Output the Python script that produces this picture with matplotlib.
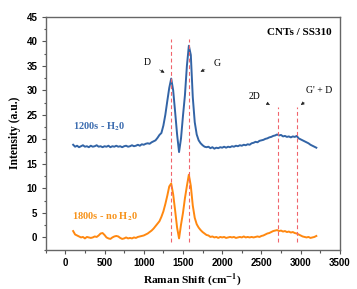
import numpy as np
import matplotlib
matplotlib.use('Agg')
import matplotlib.pyplot as plt
from matplotlib.ticker import MultipleLocator

# Raman shift grid (cm^-1)
shift = np.arange(100, 3201, 25)

# 1200s - H2O spectrum
blue_vals = [
    18.9, 18.5, 18.7, 18.4, 18.6, 18.8, 18.5, 18.6, 18.4, 18.7,
    18.5, 18.6, 18.8, 18.5, 18.6, 18.4, 18.6, 18.5, 18.7, 18.4,
    18.6, 18.5, 18.7, 18.5, 18.6, 18.4, 18.6, 18.7, 18.5, 18.6,
    18.8, 18.6, 18.7, 18.9, 18.7, 19.0, 18.9, 19.1, 19.2, 19.1,
    19.4, 19.6, 19.8, 20.3, 20.9, 21.3, 22.8, 25.0, 27.8, 30.5,
    32.4, 30.0, 25.6, 21.0, 17.4, 20.2, 24.8, 29.0, 35.0, 39.1,
    37.2, 28.6, 23.5, 21.0, 19.8, 19.2, 18.8, 18.5, 18.4, 18.5,
    18.2, 18.4, 18.1, 18.3, 18.2, 18.4, 18.3, 18.5, 18.3, 18.5,
    18.4, 18.6, 18.5, 18.7, 18.6, 18.8, 18.7, 18.9, 18.8, 19.0,
    18.9, 19.2, 19.3, 19.5, 19.4, 19.7, 19.8, 19.9, 20.1, 20.2,
    20.4, 20.5, 20.7, 20.8, 21.0, 20.8, 20.9, 20.6, 20.7, 20.5,
    20.6, 20.4, 20.6, 20.5, 20.7, 20.2, 20.0, 19.8, 19.6, 19.4,
    19.2, 18.9, 18.7, 18.5, 18.3,
]

# 1800s - no H2O spectrum
orange_vals = [
    1.3, 0.6, 0.4, 0.2, 0.0, 0.1, -0.2, 0.1, 0.0, -0.1,
    0.0, 0.2, 0.1, 0.4, 0.8, 0.9, 0.5, 0.0, -0.2, -0.3,
    0.0, 0.2, 0.3, 0.2, -0.1, -0.3, -0.2, 0.0, -0.2, -0.1,
    -0.2, 0.0, -0.1, 0.1, 0.2, 0.3, 0.4, 0.6, 0.8, 1.1,
    1.4, 1.8, 2.3, 2.8, 3.3, 4.2, 5.3, 6.8, 8.5, 10.4,
    11.0, 8.8, 5.5, 2.0, -0.2, 2.6, 5.0, 8.0, 10.5, 12.8,
    10.5, 6.5, 4.0, 2.7, 2.0, 1.5, 1.1, 0.8, 0.5, 0.4,
    0.1, 0.2, 0.0, 0.1, -0.1, 0.1, 0.0, 0.1, -0.1, 0.0,
    0.1, 0.0, 0.1, -0.1, 0.0, 0.1, 0.0, 0.2, 0.0, 0.1,
    0.0, 0.1, 0.0, 0.1, 0.2, 0.1, 0.3, 0.4, 0.6, 0.8,
    0.9, 1.1, 1.3, 1.4, 1.5, 1.3, 1.4, 1.2, 1.3, 1.1,
    1.2, 1.0, 1.1, 0.9, 0.8, 0.6, 0.4, 0.2, 0.1, 0.0,
    0.1, -0.1, 0.0, 0.1, 0.3,
]

# band positions and dashed marker extents
band_pos = [1350, 1580, 2705, 2950]
band_top = [40.5, 40.5, 26.5, 26.5]
band_bottom = -1.0

# labels: (text, arrow tip, text position)
band_labels = [
    ('D', (1265, 33.6), (1043, 35.6)),
    ('G', (1723, 33.8), (1941, 35.4)),
    ('2D', (2608, 27.0), (2408, 28.8)),
    ("G' + D", (3002, 27.0), (3235, 29.9)),
]

sans = 'Liberation Sans'
serif = 'Liberation Serif'
plt.rcParams['mathtext.fontset'] = 'stix'

fig = plt.figure(figsize=(3.57, 2.89), dpi=100)
ax = fig.add_axes([0.128, 0.136, 0.824, 0.806])

ax.plot(shift, blue_vals, color='#3264a6', lw=1.4)
ax.plot(shift, orange_vals, color='#ff8810', lw=1.4)

for x, top in zip(band_pos, band_top):
    ax.plot([x, x], [band_bottom, top], ls=(0, (3.5, 2.5)), color='#f0646c', lw=0.8)

for txt, tip, pos in band_labels:
    ax.annotate(txt, xy=tip, xytext=pos, ha='center', va='center',
                fontsize=7, family=serif,
                arrowprops=dict(arrowstyle='-|>', color='#222222', lw=0.4,
                                mutation_scale=5, shrinkA=5, shrinkB=0))

ax.text(3390, 41.8, 'CNTs / SS310', ha='right', va='center', fontsize=8,
        family=serif, fontweight='bold')
ax.text(100, 22.6, r'1200s - H$_\mathbf{2}$0', ha='left', va='center',
        fontsize=7.5, family=serif, fontweight='bold', color='#3d6db0')
ax.text(88, 4.3, r'1800s - no H$_\mathbf{2}$0', ha='left', va='center',
        fontsize=7.5, family=serif, fontweight='bold', color='#f7941d')

ax.set_xlim(-250, 3500)
ax.set_ylim(-2.5, 45)
ax.xaxis.set_major_locator(MultipleLocator(500))
ax.xaxis.set_minor_locator(MultipleLocator(250))
ax.yaxis.set_major_locator(MultipleLocator(5))
ax.yaxis.set_minor_locator(MultipleLocator(2.5))
ax.tick_params(which='both', direction='out', color='#555555', width=0.8,
               top=False, right=False)
ax.tick_params(which='major', length=3, pad=3)
ax.tick_params(which='minor', length=1.8)
for lab in ax.get_xticklabels() + ax.get_yticklabels():
    lab.set_family(sans)
    lab.set_fontweight('bold')
    lab.set_fontsize(7)
for sp in ax.spines.values():
    sp.set_color('#666666')
    sp.set_linewidth(1.0)

ax.set_xlabel(r'Raman Shift (cm$^{\mathbf{-1}}$)', family=serif,
              fontweight='bold', fontsize=8.2, labelpad=2.5)
ax.set_ylabel('Intensity (a.u.)', family=serif, fontweight='bold',
              fontsize=8.4, labelpad=4)

fig.savefig('out.png', dpi=100)
